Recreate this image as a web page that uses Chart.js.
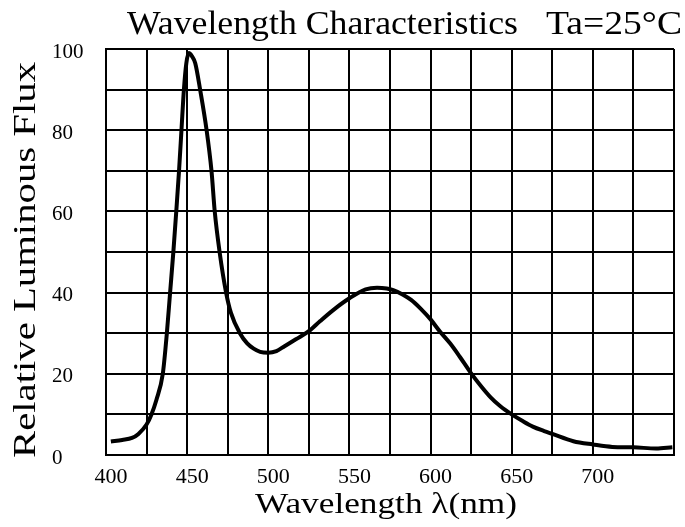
<!DOCTYPE html>
<html>
<head>
<meta charset="utf-8">
<script src="https://cdn.jsdelivr.net/npm/chart.js@4.4.1/dist/chart.umd.min.js"></script>
<style>
  body { margin: 0; background: #fff; }
  #mycanvas { display: block; }
</style>
</head>
<body>
<canvas id="mycanvas" width="685" height="527"></canvas>
<script>
// values
var wavelength = [403, 410, 416, 420, 425, 428, 431, 435, 437.5, 439.5,
  441.5, 443.3, 445, 446.5, 448, 449.5, 451, 453, 455, 458,
  462, 465, 467, 470, 474, 477, 482.5, 487, 491, 495,
  500, 505, 510, 517, 525, 532, 540, 550, 560, 567,
  573, 577, 583, 588, 594, 600, 606, 612, 618, 625,
  631, 637, 643, 650, 657, 663, 670, 675, 688, 700,
  712, 725, 739, 749];
var flux = [3.3, 3.7, 4.2, 5.2, 7.5, 10, 13.5, 20, 30, 40,
  50, 60, 70, 80, 90, 96.5, 99, 98.2, 96.5, 90,
  80, 70, 60, 50, 40, 35, 30, 27.5, 26.2, 25.4,
  25.2, 25.6, 26.8, 28.5, 30.5, 33, 35.7, 38.6, 40.8, 41.2,
  41, 40.6, 39.5, 38.2, 36, 33.4, 30.3, 27.5, 24.2, 20.1,
  17, 14.2, 12, 10, 8.3, 7, 5.9, 5.2, 3.4, 2.6,
  2.0, 1.9, 1.6, 1.9];
var xTickLabels = [400, 450, 500, 550, 600, 650, 700];
var yTickLabels = [0, 20, 40, 60, 80, 100];

var serif = "'Liberation Serif', 'Times New Roman', Times, serif";

// stretched text, like the scanned datasheet
function drawFit(ctx, text, size, x, y, width, angle) {
	ctx.save();
	ctx.font = size + "px " + serif;
	ctx.fillStyle = "#000";
	ctx.textBaseline = "alphabetic";
	ctx.textAlign = "left";
	var w = ctx.measureText(text).width;
	ctx.translate(x, y);
	if (angle) ctx.rotate(angle);
	ctx.scale(width / w, 1);
	ctx.fillText(text, 0, 0);
	ctx.restore();
}

var titles = {
	id: "titles",
	afterDraw: function(chart) {
		var ctx = chart.ctx;
		drawFit(ctx, "Wavelength Characteristics", 33, 127, 34, 391);
		drawFit(ctx, "Ta=25°C", 33, 546, 34, 136);
		drawFit(ctx, "Wavelength λ(nm)", 29, 255, 513, 262);
		drawFit(ctx, "Relative Luminous Flux", 31, 35, 458, 396, -Math.PI / 2);
	}
};

var ctx = document.getElementById("mycanvas");

var chartdata = {
	datasets : [
		{
			data : wavelength.map(function(w, i) { return {x: w, y: flux[i]}; }),
			borderColor : "#000",
			borderWidth : 4,
			pointRadius : 0,
			fill : false,
			cubicInterpolationMode : "monotone"
		}
	]
};

var new_chart = new Chart(ctx, {
	type : "line",
	data : chartdata,
	plugins : [titles],
	options : {
		responsive : false,
		animation : false,
		devicePixelRatio : 1,
		layout : { padding : { left : 52, top : 49, right : 11, bottom : 0 } },
		plugins : { legend : { display : false }, tooltip : { enabled : false } },
		scales : {
			x : {
				type : "linear",
				min : 400,
				max : 750,
				afterFit : function(s) { s.height = 72; },
				grid : { color : "#000", lineWidth : 2, drawTicks : false },
				border : { color : "#000", width : 2 },
				ticks : {
					stepSize : 25,
					autoSkip : false,
					maxRotation : 0,
					padding : 9,
					labelOffset : 5,
					color : "#000",
					font : { family : serif, size : 22 },
					callback : function(v) { return xTickLabels.indexOf(v) >= 0 ? String(v) : ""; }
				}
			},
			y : {
				min : 0,
				max : 100,
				afterFit : function(s) { s.width = 54; },
				grid : { color : "#000", lineWidth : 2, drawTicks : false },
				border : { color : "#000", width : 2 },
				ticks : {
					stepSize : 10,
					autoSkip : false,
					crossAlign : "far",
					labelOffset : 3,
					color : "#000",
					font : { family : serif, size : 21 },
					callback : function(v) { return yTickLabels.indexOf(v) >= 0 ? String(v) : ""; }
				}
			}
		}
	}
});
</script>
</body>
</html>
